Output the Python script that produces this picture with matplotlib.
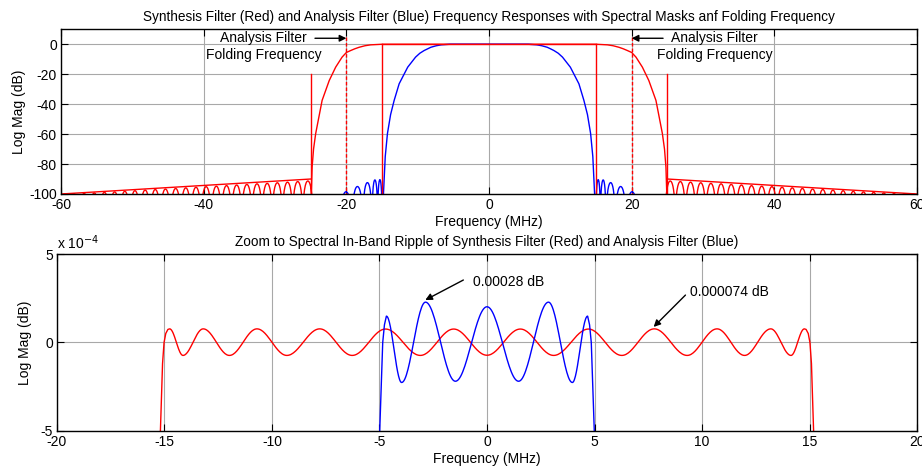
import numpy as np
import matplotlib
matplotlib.use("Agg")
import matplotlib.pyplot as plt

plt.rcParams['font.family'] = ['Liberation Sans', 'DejaVu Sans']
plt.rcParams['axes.unicode_minus'] = False

# ---------------- data ----------------
# Top panel (positive-frequency side; mirrored for negative side)
red_trans_f  = [15.0, 16.6, 17.4, 18.2, 18.8, 19.4, 20.0, 20.6, 21.5, 22.4, 23.4, 24.3, 24.6, 24.8, 24.92]
red_trans_db = [0.0, -0.4, -1.0, -2.0, -3.0, -4.2, -5.5, -8.6, -15.3, -24.2, -37.5, -59.6, -70.0, -82.0, -100.0]

blue_trans_f  = [5.5, 6.7, 7.4, 8.15, 8.6, 9.1, 9.7, 10.3, 11.4, 12.6, 13.3, 13.8, 14.24, 14.55, 14.8]
blue_trans_db = [0.0, -0.4, -1.0, -2.0, -3.0, -4.2, -6.0, -8.6, -15.3, -26.4, -37.5, -47.0, -59.6, -75.0, -100.0]

# stop-band side-lobe peaks (frequency, level, lobe width)
red_lobe_f = [25.40, 26.82, 28.25, 29.68, 31.10, 32.53, 33.95, 35.38, 36.80, 38.23, 39.66, 41.08,
              42.51, 43.93, 45.36, 46.79, 48.21, 49.64, 51.06, 52.49, 53.92, 55.34, 56.77, 58.19, 59.50]
red_lobe_db = [-91.3, -91.7, -92.1, -92.5, -92.9, -93.2, -93.6, -94.0, -94.4, -94.8, -95.1, -95.5,
               -95.9, -96.3, -96.7, -97.0, -97.4, -97.8, -98.2, -98.6, -98.9, -99.3, -99.6, -99.8, -99.95]
red_lobe_w = 1.42

blue_lobe_f  = [15.30, 16.00, 17.05, 18.45, 20.05]
blue_lobe_db = [-90.4, -90.6, -92.4, -95.0, -98.5]
blue_lobe_w  = [0.62, 0.78, 1.25, 1.50, 1.65]

# spectral masks
mask_pass_edge = 15.0
mask_stop_edge = 25.0
mask_stop_top = -20.0
mask_slope_f  = [25.0, 60.0]
mask_slope_db = [-90.0, -100.0]
fold_freq = 20.0

# Bottom panel: in-band ripple extrema (dB), positive side; mirrored
red_rip_f = [0.0, 1.55, 3.10, 4.72, 6.27, 7.78, 9.31, 10.70, 11.98, 13.20, 14.14, 14.76]
red_rip_v = [-0.72e-4, 0.76e-4, -0.73e-4, 0.76e-4, -0.73e-4, 0.77e-4, -0.73e-4, 0.77e-4,
             -0.73e-4, 0.77e-4, -0.73e-4, 0.77e-4]
red_edge_f = [14.84, 14.94, 15.02, 15.09, 15.14, 15.19, 15.25]
red_edge_v = [0.74e-4, 0.51e-4, 0.0, -1.19e-4, -3.08e-4, -5.0e-4, -8.0e-4]

blue_rip_f = [0.0, 1.47, 2.86, 3.97, 4.68]
blue_rip_v = [2.02e-4, -2.19e-4, 2.28e-4, -2.26e-4, 1.49e-4]
blue_edge_f = [4.77, 4.85, 4.93, 4.99, 5.03]
blue_edge_v = [1.0e-4, 0.0, -2.9e-4, -5.0e-4, -7.0e-4]

# ---------------- helpers (draw through read values) ----------------
def lobes(fc, pk, w):
    fs, ys = [], []
    w = np.broadcast_to(np.asarray(w, float), (len(fc),))
    for c, p, ww in zip(fc, pk, w):
        t = np.linspace(-0.5, 0.5, 41)
        y = p + 20 * np.log10(np.maximum(np.cos(np.pi * t), 1e-6))
        fs.append(c + t * ww)
        ys.append(np.maximum(y, -130))
    return np.concatenate(fs), np.concatenate(ys)

def smooth_extrema(fx, vy, n=30):
    xs, ys = [], []
    for i in range(len(fx) - 1):
        t = np.linspace(0, 1, n, endpoint=False)
        e = (1 - np.cos(np.pi * t)) / 2
        xs.append(fx[i] + (fx[i + 1] - fx[i]) * t)
        ys.append(vy[i] + (vy[i + 1] - vy[i]) * e)
    xs.append([fx[-1]]); ys.append([vy[-1]])
    return np.concatenate(xs), np.concatenate(ys)

def mirror(f, y):
    f = np.asarray(f, float); y = np.asarray(y, float)
    return np.concatenate([-f[::-1], f]), np.concatenate([y[::-1], y])

# ---------------- figure ----------------
fig = plt.figure(figsize=(9.22, 4.67), dpi=100)
ax1 = fig.add_axes([0.0662, 0.5846, 0.9284, 0.3527])
ax2 = fig.add_axes([0.0618, 0.0771, 0.9328, 0.3790])

RED, BLUE = '#ff0000', '#0000ff'
LW = 1.0
FS = 10
FT = 9.8

for ax in (ax1, ax2):
    for s in ax.spines.values():
        s.set_linewidth(1.0)
    ax.tick_params(direction='in', top=True, right=True, length=5, width=0.8,
                   labelsize=FS, pad=3)
    ax.grid(True, color='#a8a8a8', linewidth=0.8)
    ax.set_axisbelow(True)

# --- top panel ---
rl_f, rl_y = lobes(red_lobe_f, red_lobe_db, red_lobe_w)
rf, ry = mirror(np.concatenate([red_trans_f, rl_f]), np.concatenate([red_trans_db, rl_y]))
ax1.plot(rf, ry, color=RED, lw=LW)
bl_f, bl_y = lobes(blue_lobe_f, blue_lobe_db, blue_lobe_w)
bf, by = mirror(np.concatenate([blue_trans_f, bl_f]), np.concatenate([blue_trans_db, bl_y]))
ax1.plot(bf, by, color=BLUE, lw=LW)
for sgn in (-1, 1):
    ax1.plot([sgn * mask_pass_edge] * 2, [0, -100], color=RED, lw=LW)
    ax1.plot([sgn * mask_stop_edge] * 2, [mask_stop_top, -100], color=RED, lw=LW)
    ax1.plot([sgn * f for f in mask_slope_f], mask_slope_db, color=RED, lw=LW)
    ax1.plot([sgn * fold_freq] * 2, [5, -100], color=RED, lw=LW, ls=(0, (2.5, 1.5)))
ax1.plot([-mask_pass_edge, mask_pass_edge], [0, 0], color=RED, lw=LW)

ax1.set_xlim(-60, 60)
ax1.set_ylim(-100, 10)
ax1.set_xticks([-60, -40, -20, 0, 20, 40, 60])
ax1.set_yticks([-100, -80, -60, -40, -20, 0])
ax1.set_xlabel('Frequency (MHz)', fontsize=FS, labelpad=2)
ax1.set_ylabel('Log Mag (dB)', fontsize=FS, labelpad=2)
ax1.set_title('Synthesis Filter (Red) and Analysis Filter (Blue) Frequency Responses with Spectral Masks anf Folding Frequency',
              fontsize=FT, pad=6)

arrow = dict(arrowstyle='-|>', color='k', lw=1.0, mutation_scale=10, shrinkA=0, shrinkB=0)
ax1.annotate('', xy=(-20, 4), xytext=(-24.4, 4), arrowprops=arrow)
ax1.annotate('', xy=(20, 4), xytext=(24.4, 4), arrowprops=arrow)
ax1.text(-31.6, -1.5, 'Analysis Filter\nFolding Frequency', ha='center', va='center',
         fontsize=FS, linespacing=1.2)
ax1.text(31.6, -1.5, 'Analysis Filter\nFolding Frequency', ha='center', va='center',
         fontsize=FS, linespacing=1.2)

# --- bottom panel ---
rr_f, rr_v = smooth_extrema(red_rip_f, red_rip_v)
rpf = np.concatenate([rr_f, red_edge_f])[1:]; rpv = np.concatenate([rr_v, red_edge_v])[1:]
f2, v2 = mirror(rpf, rpv)
f2 = np.insert(f2, len(rpf), 0.0); v2 = np.insert(v2, len(rpf), red_rip_v[0])
ax2.plot(f2, v2, color=RED, lw=LW)

br_f, br_v = smooth_extrema(blue_rip_f, blue_rip_v)
bpf = np.concatenate([br_f, blue_edge_f])[1:]; bpv = np.concatenate([br_v, blue_edge_v])[1:]
f3, v3 = mirror(bpf, bpv)
f3 = np.insert(f3, len(bpf), 0.0); v3 = np.insert(v3, len(bpf), blue_rip_v[0])
ax2.plot(f3, v3, color=BLUE, lw=LW)

ax2.set_xlim(-20, 20)
ax2.set_ylim(-5e-4, 5e-4)
ax2.set_xticks(np.arange(-20, 21, 5))
ax2.set_yticks([-5e-4, 0, 5e-4])
ax2.set_yticklabels(['-5', '0', '5'])
ax2.set_xlabel('Frequency (MHz)', fontsize=FS, labelpad=2)
ax2.set_ylabel('Log Mag (dB)', fontsize=FS, labelpad=6)
ax2.set_title('Zoom to Spectral In-Band Ripple of Synthesis Filter (Red) and Analysis Filter (Blue)',
              fontsize=FT, pad=6)
ax2.text(0.0, 1.012, 'x 10$^{-4}$', transform=ax2.transAxes, ha='left', va='bottom', fontsize=FS)

ax2.annotate('', xy=(-2.87, 2.40e-4), xytext=(-1.10, 3.53e-4), arrowprops=arrow)
ax2.text(-0.65, 3.43e-4, '0.00028 dB', ha='left', va='center', fontsize=FS)
ax2.annotate('', xy=(7.75, 0.88e-4), xytext=(9.23, 2.68e-4), arrowprops=arrow)
ax2.text(9.46, 2.87e-4, '0.000074 dB', ha='left', va='center', fontsize=FS)

fig.savefig('out.png', dpi=100)
